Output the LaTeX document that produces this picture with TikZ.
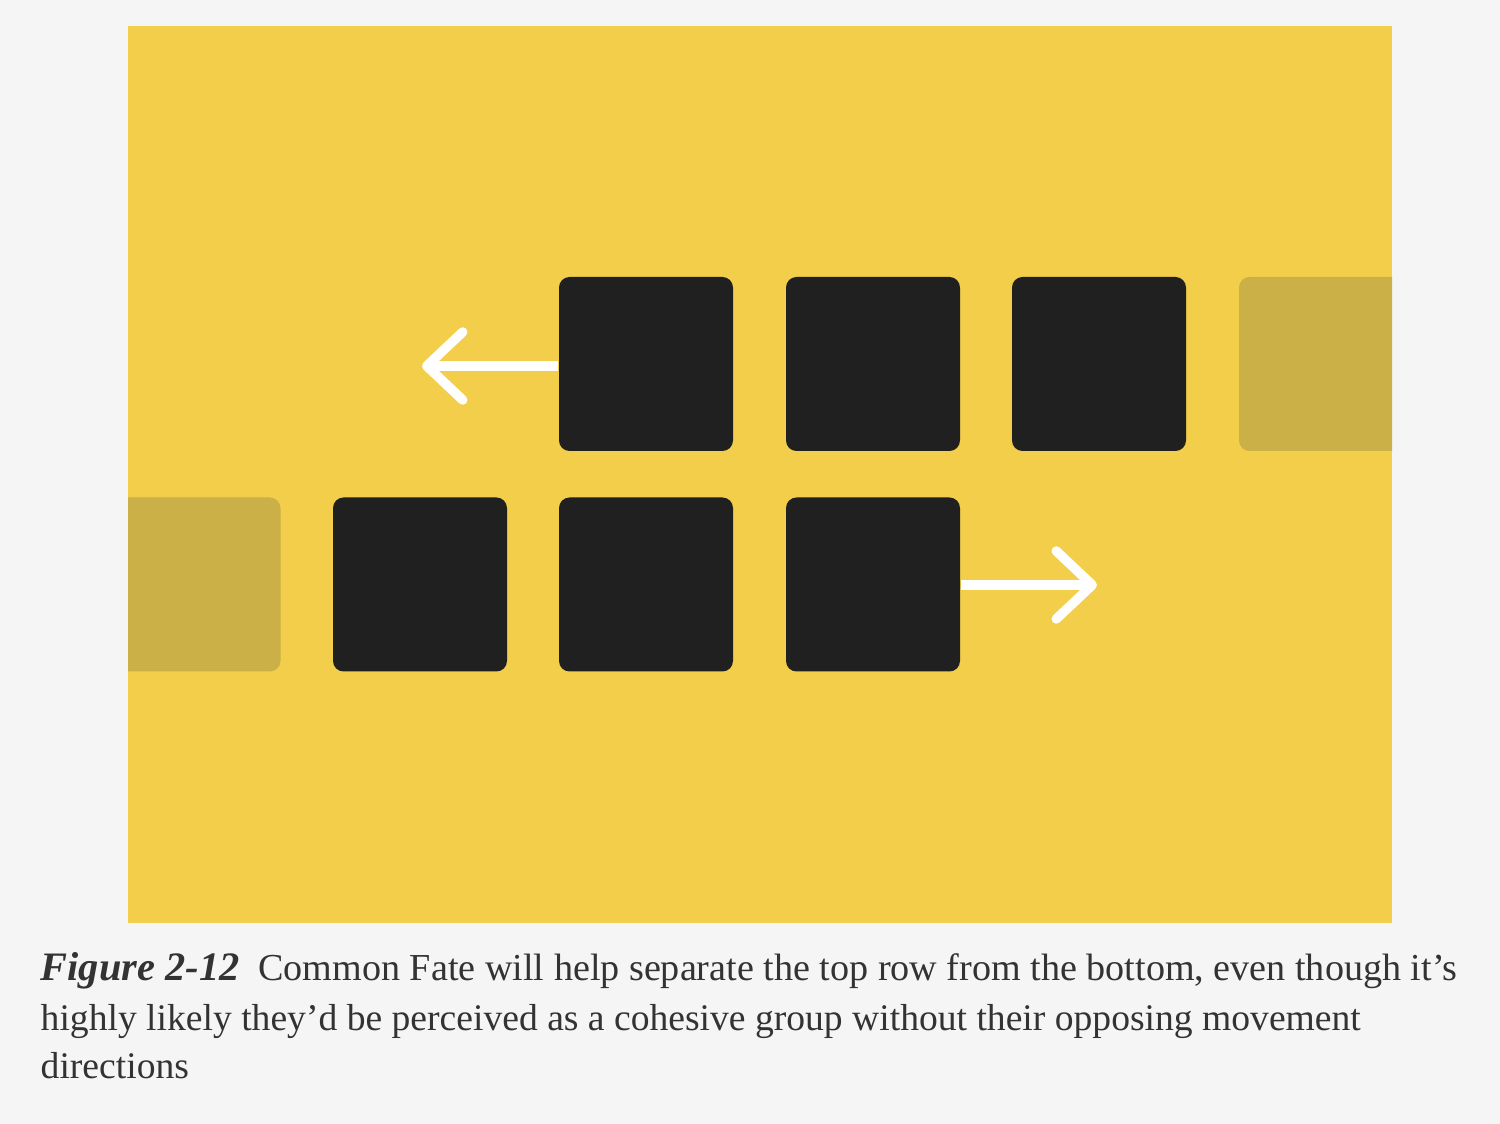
\documentclass[tikz,border=0pt]{standalone}
\usepackage{fontspec}
\setmainfont{Liberation Serif}
\usepackage{xcolor}
\usetikzlibrary{arrows.meta}
\definecolor{pagegray}{HTML}{F5F5F5}
\definecolor{panelyellow}{HTML}{F3CE4A}
\definecolor{tiledark}{HTML}{202020}
\definecolor{tileghost}{HTML}{CBAF47}
\definecolor{captiongray}{HTML}{333333}
\begin{document}
\begin{tikzpicture}[
    tile/.style={rectangle, rounded corners=3pt, fill=tiledark, minimum width=1.74cm, minimum height=1.74cm, inner sep=0pt},
    ghost/.style={tile, fill=tileghost},
    move/.style={draw=white, line width=2.7pt, line cap=butt, -{Straight Barb[length=3.6mm, width=6.8mm, line join=round, line cap=round]}},
    caption/.style={anchor=base west, inner sep=0pt, text=captiongray, font=\fontsize{10.7}{13}\selectfont}
]
% Page and panel
\fill[pagegray] (0,0) rectangle (15,-11.24);
\fill[panelyellow] (1.28,-0.26) rectangle (13.92,-9.23);
% Fading tiles at the edges
\begin{scope}
\clip (1.28,-0.26) rectangle (13.92,-9.23);
\node[ghost] (topghost) at (13.26,-3.64) {};
\node[ghost] (botghost) at (1.935,-5.845) {};
\end{scope}
% Top row
\node[tile] (top1) at (6.46,-3.64) {};
\node[tile] (top2) at (8.73,-3.64) {};
\node[tile] (top3) at (10.99,-3.64) {};
% Bottom row
\node[tile] (bot1) at (4.20,-5.845) {};
\node[tile] (bot2) at (6.46,-5.845) {};
\node[tile] (bot3) at (8.73,-5.845) {};
% Movement
\coordinate (lefttip) at (4.22,-3.66);
\coordinate (righttip) at (10.97,-5.85);
\draw[move] (top1.west |- lefttip) -- (lefttip);
\draw[move] (bot3.east |- righttip) -- (righttip);
% Caption
\node[caption] (cap1) at (0.40,-9.805) {{\fontsize{11.5}{13}\selectfont\textbf{\textit{Figure 2-12}}}\hspace{0.19cm}{\fontsize{10.85}{13}\selectfont Common Fate will help separate the top row from the bottom, even though it’s}};
\node[caption] (cap2) at (0.40,-10.305) {highly likely they’d be perceived as a cohesive group without their opposing movement};
\node[caption] (cap3) at (0.40,-10.79) {directions};
\end{tikzpicture}
\end{document}
